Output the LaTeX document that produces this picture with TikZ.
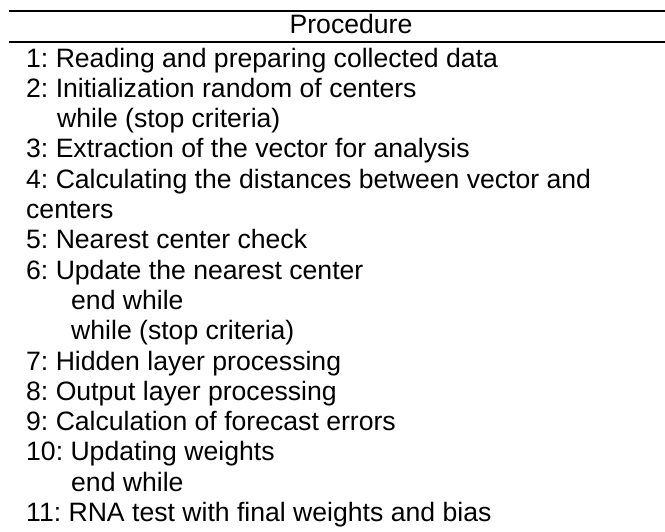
\documentclass[tikz,border=0pt]{standalone}
\usepackage{fontspec}
\setmainfont{Liberation Sans}
\frenchspacing
\begin{document}
\begin{tikzpicture}[x=1pt,y=-1pt,
  rowtext/.style={anchor=base west,inner sep=0pt,font=\fontsize{26.6}{30}\selectfont},
  rulestyle/.style={line width=2pt}]
\useasboundingbox (0,0) rectangle (665,531);
% table rules
\draw[rulestyle] (9,10.5) -- (665,10.5);
\draw[rulestyle] (9,41.5) -- (665,41.5);
% header
\node[anchor=base,inner sep=0pt,font=\fontsize{26.6}{30}\selectfont] (head) at (351,33) {Procedure};
% procedure lines: indent / text
\foreach \ind/\txt [count=\i from 0] in {
  26/{1: Reading and preparing collected data},
  26/{2: Initialization random of centers},
  57/{while (stop criteria)},
  26/{3: Extraction of the vector for analysis},
  26/{4: Calculating the distances between vector and},
  26/{centers},
  26/{5: Nearest center check},
  26/{6: Update the nearest center},
  71/{end while},
  71/{while (stop criteria)},
  26/{7: Hidden layer processing},
  26/{8: Output layer processing},
  26/{9: Calculation of forecast errors},
  26/{10: Updating weights},
  71/{end while},
  26/{11: RNA test with final weights and bias}}
  \node[rowtext] (line\i) at (\ind,67+30.3*\i) {\txt};
\end{tikzpicture}
\end{document}
